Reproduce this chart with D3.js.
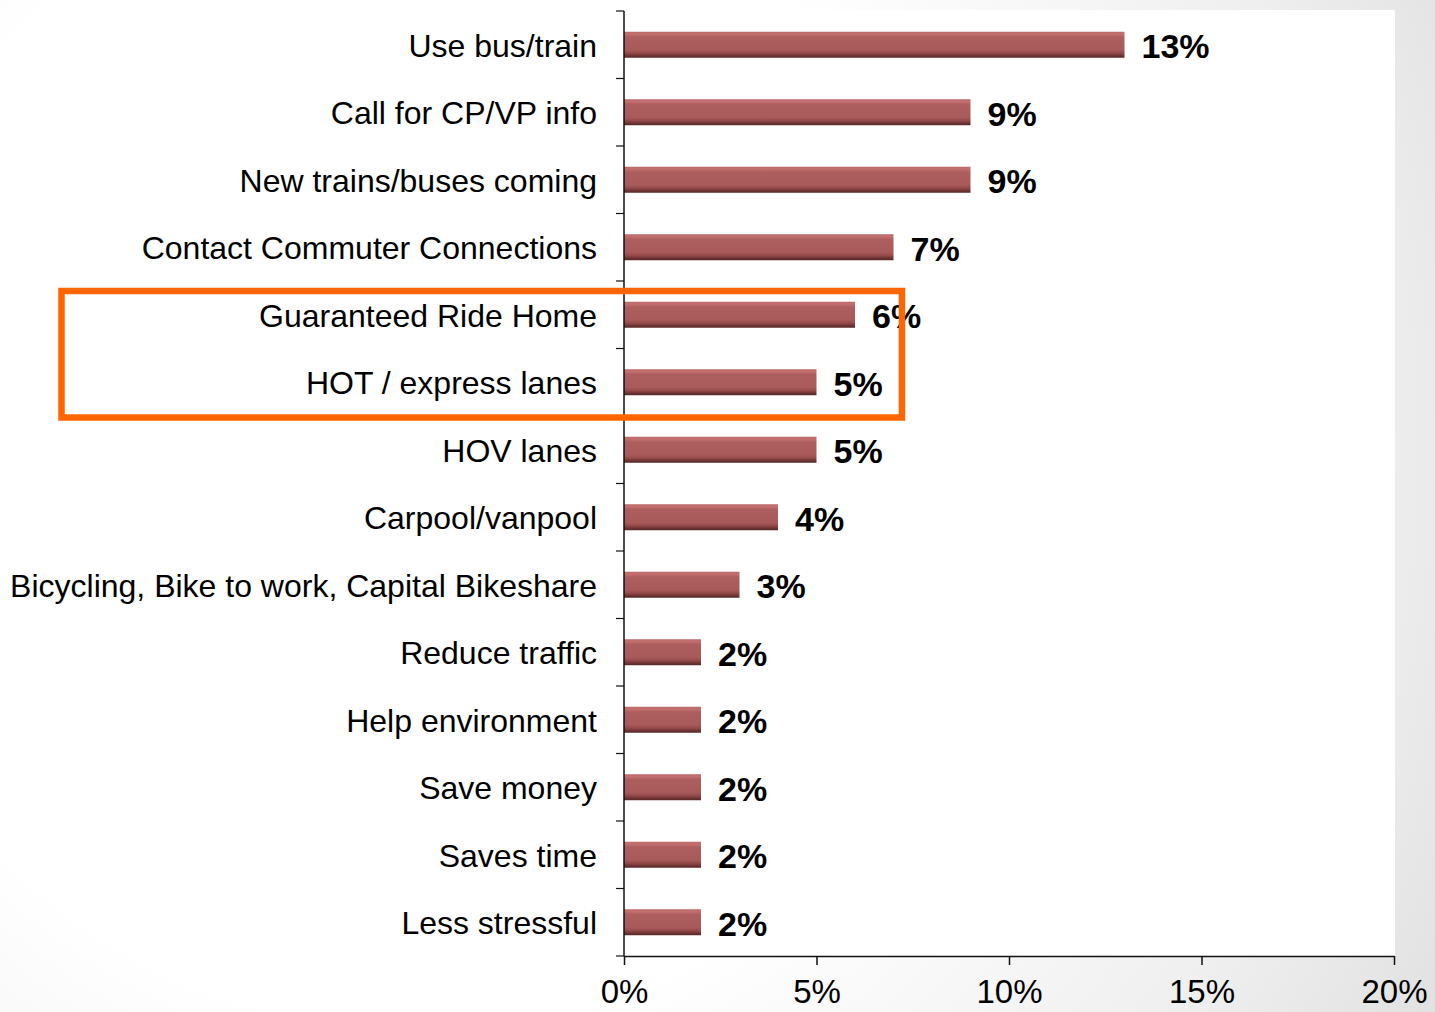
<!DOCTYPE html>
<html>
<head>
<meta charset="utf-8">
<script src="https://cdn.jsdelivr.net/npm/d3@7"></script>
<style>
  html, body { margin: 0; padding: 0; background: #fff; }
  svg { display: block; }
</style>
</head>
<body>
<svg id="chart" width="1435" height="1012"></svg>
<script>
// Reasons given, share of respondents (%)
const categories = [
  "Use bus/train",
  "Call for CP/VP info",
  "New trains/buses coming",
  "Contact Commuter Connections",
  "Guaranteed Ride Home",
  "HOT / express lanes",
  "HOV lanes",
  "Carpool/vanpool",
  "Bicycling, Bike to work, Capital Bikeshare",
  "Reduce traffic",
  "Help environment",
  "Save money",
  "Saves time",
  "Less stressful"
];
const values = [13, 9, 9, 7, 6, 5, 5, 4, 3, 2, 2, 2, 2, 2];
const xTicks = [0, 5, 10, 15, 20];
const highlighted = ["Guaranteed Ride Home", "HOT / express lanes"];

const W = 1435, H = 1012;
const margin = { left: 624, right: 41, top: 11, bottom: 56 };

const svg = d3.select("#chart");
const defs = svg.append("defs");

// Soft grey backdrop, lighter toward the left
const bg = defs.append("radialGradient").attr("id", "bgGrad")
  .attr("gradientUnits", "userSpaceOnUse")
  .attr("cx", 420).attr("cy", 450).attr("r", 1150);
bg.append("stop").attr("offset", "0.5").attr("stop-color", "#ffffff");
bg.append("stop").attr("offset", "0.82").attr("stop-color", "#efefef");
bg.append("stop").attr("offset", "1").attr("stop-color", "#e2e2e2");

// Bar shading: light top edge, darker bottom edge
const bar = defs.append("linearGradient").attr("id", "barGrad")
  .attr("x1", 0).attr("y1", 0).attr("x2", 0).attr("y2", 1);
[[0, "#b76767"], [0.08, "#c77070"], [0.2, "#ad5f5f"], [0.7, "#a85a5a"],
 [0.82, "#94494a"], [0.92, "#6e3434"], [1, "#552626"]]
  .forEach(([o, c]) => bar.append("stop").attr("offset", o).attr("stop-color", c));

svg.append("rect").attr("width", W).attr("height", H).attr("fill", "url(#bgGrad)");

const x = d3.scaleLinear().domain([0, 20]).range([margin.left, W - margin.right]);
const y = d3.scaleBand().domain(categories)
  .range([margin.top, H - margin.bottom]).paddingInner(0.615).paddingOuter(0.3075);

// White plot panel
svg.append("rect")
  .attr("x", 380).attr("y", margin.top - 1)
  .attr("width", x(20) - 380 + 1).attr("height", (H - margin.bottom) - margin.top + 2)
  .attr("fill", "#ffffff");

// Bars
const rows = categories.map((c, i) => ({ c, v: values[i] }));
svg.append("g").selectAll("rect").data(rows).join("rect")
  .attr("x", x(0))
  .attr("y", d => y(d.c))
  .attr("width", d => x(d.v) - x(0))
  .attr("height", y.bandwidth())
  .attr("fill", "url(#barGrad)");

// Value labels
svg.append("g").selectAll("text").data(rows).join("text")
  .attr("x", d => x(d.v) + 17)
  .attr("y", d => y(d.c) + y.bandwidth() / 2)
  .attr("dy", "0.4em")
  .attr("font-family", "Liberation Sans, Arial, sans-serif")
  .attr("font-weight", "bold")
  .attr("font-size", 34)
  .attr("fill", "#000")
  .text(d => d.v + "%");

// Category axis: ticks sit on band boundaries
const yAxis = svg.append("g");
yAxis.append("line")
  .attr("x1", x(0)).attr("x2", x(0))
  .attr("y1", margin.top).attr("y2", H - margin.bottom)
  .attr("stroke", "#111").attr("stroke-width", 1.5);
const step = y.step();
d3.range(categories.length + 1).forEach(i => {
  const yy = margin.top + i * step;
  yAxis.append("line")
    .attr("x1", x(0) - 8).attr("x2", x(0))
    .attr("y1", yy).attr("y2", yy)
    .attr("stroke", "#111").attr("stroke-width", 1.2);
});
yAxis.selectAll("text").data(categories).join("text")
  .attr("x", x(0) - 27)
  .attr("y", d => y(d) + y.bandwidth() / 2)
  .attr("dy", "0.38em")
  .attr("text-anchor", "end")
  .attr("font-family", "Liberation Sans, Arial, sans-serif")
  .attr("font-size", 32)
  .attr("fill", "#000")
  .text(d => d);

// Value axis
const xAxis = svg.append("g")
  .attr("transform", `translate(0,${H - margin.bottom})`)
  .call(d3.axisBottom(x).tickValues(xTicks).tickFormat(d => d + "%").tickSize(9).tickSizeOuter(0));
xAxis.select(".domain").attr("stroke", "#111").attr("stroke-width", 1.5);
xAxis.selectAll(".tick line").attr("stroke", "#111").attr("stroke-width", 1.5);
xAxis.selectAll(".tick text")
  .attr("font-family", "Liberation Sans, Arial, sans-serif")
  .attr("font-size", 33)
  .attr("fill", "#000")
  .attr("y", 24);

// Highlight box around the two lane/ride-home items
const yTop = y(highlighted[0]) - (step - y.bandwidth()) / 2 + 10;
const yBot = y(highlighted[1]) + y.bandwidth() + (step - y.bandwidth()) / 2 + 1.5;
svg.append("rect")
  .attr("x", 61.5)
  .attr("y", yTop)
  .attr("width", x(7.22) - 61.5)
  .attr("height", yBot - yTop)
  .attr("fill", "none")
  .attr("stroke", "#ff6600")
  .attr("stroke-width", 6.5);
</script>
</body>
</html>
